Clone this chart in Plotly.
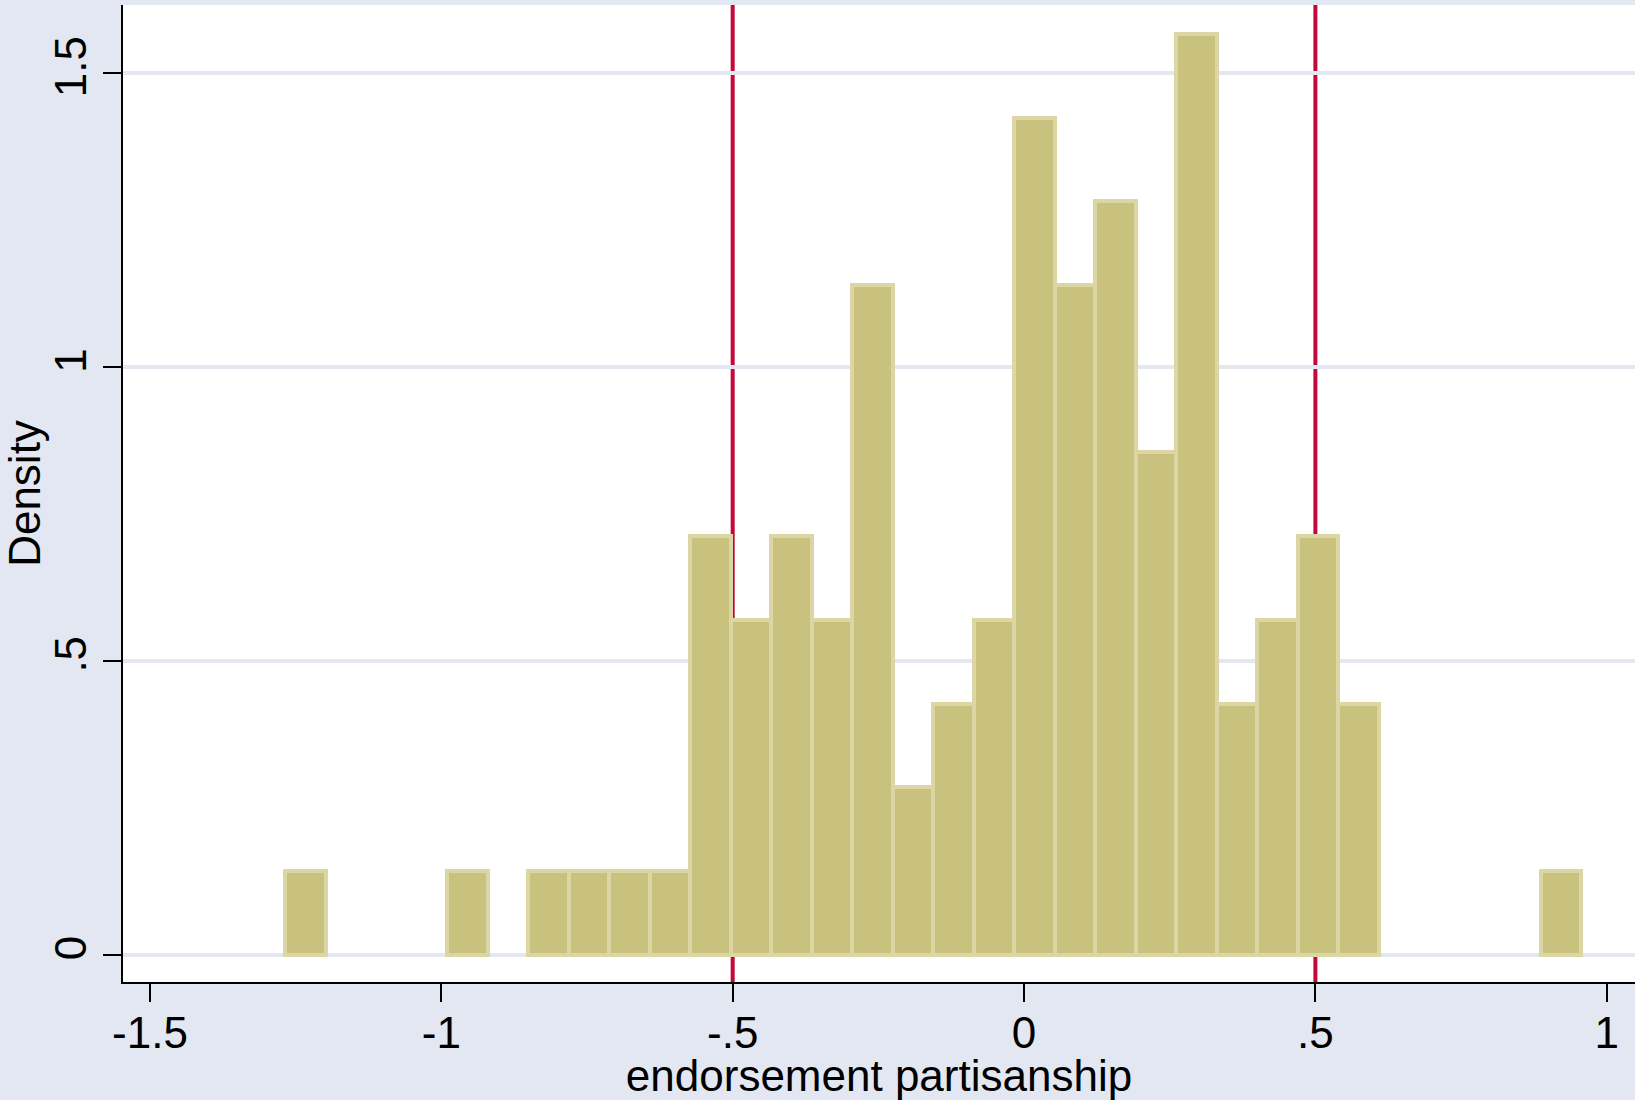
import plotly.graph_objects as go

# Histogram of endorsement partisanship: 32 equal-width bins, density scale
bin_start = -1.2677
bin_width = 0.0695
counts = [1, 0, 0, 0, 1, 0, 1, 1, 1, 1, 5, 4, 5, 4, 8, 2,
          3, 4, 10, 8, 9, 6, 11, 3, 4, 5, 3, 0, 0, 0, 0, 1]
n_obs = sum(counts)

# Reference lines
ref_lines = [-0.5, 0.5]

x_ticks = [-1.5, -1, -0.5, 0, 0.5, 1]
x_ticklabels = ["-1.5", "-1", "-.5", "0", ".5", "1"]
y_ticks = [0, 0.5, 1, 1.5]
y_ticklabels = ["0", ".5", "1", "1.5"]

# Only non-empty bins get a bar
centers = [bin_start + (i + 0.5) * bin_width for i, c in enumerate(counts) if c > 0]
density = [c / (n_obs * bin_width) for c in counts if c > 0]

BG = "#e2e7f1"
FONT = "Liberation Sans, Arial, Helvetica, sans-serif"
FS = 44

fig = go.Figure()
fig.add_trace(go.Bar(
    x=centers,
    y=density,
    width=bin_width,
    marker=dict(color="#c9c27e", line=dict(color="#dbd6a3", width=4)),
    showlegend=False,
))

for xv in ref_lines:
    fig.add_shape(type="line", xref="x", yref="paper", x0=xv, x1=xv, y0=0, y1=1,
                  line=dict(color="#c4083a", width=4), layer="between")

fig.update_layout(
    width=1635, height=1100,
    margin=dict(l=123, r=0, t=5, b=118),
    paper_bgcolor=BG,
    plot_bgcolor="white",
    bargap=0,
    font=dict(family=FONT, size=FS, color="black"),
    xaxis=dict(
        range=[-1.5463, 1.0485],
        tickvals=x_ticks, ticktext=x_ticklabels,
        ticks="outside", ticklen=18, tickwidth=1.5, tickcolor="black",
        ticklabelstandoff=-7,
        showline=True, linecolor="black", linewidth=1.5,
        showgrid=False, zeroline=False,
        tickfont=dict(size=FS),
        title=dict(text="endorsement partisanship", font=dict(size=FS), standoff=7),
    ),
    yaxis=dict(
        range=[-0.0466, 1.6163],
        tickvals=y_ticks, ticktext=y_ticklabels,
        ticks="outside", ticklen=18, tickwidth=1.5, tickcolor="black",
        tickangle=-90,
        showline=True, linecolor="black", linewidth=1.5,
        showgrid=True, gridcolor=BG, gridwidth=4, zeroline=False,
        tickfont=dict(size=FS),
        title=dict(text="Density", font=dict(size=FS), standoff=6),
    ),
)

fig.write_html("out.html")
